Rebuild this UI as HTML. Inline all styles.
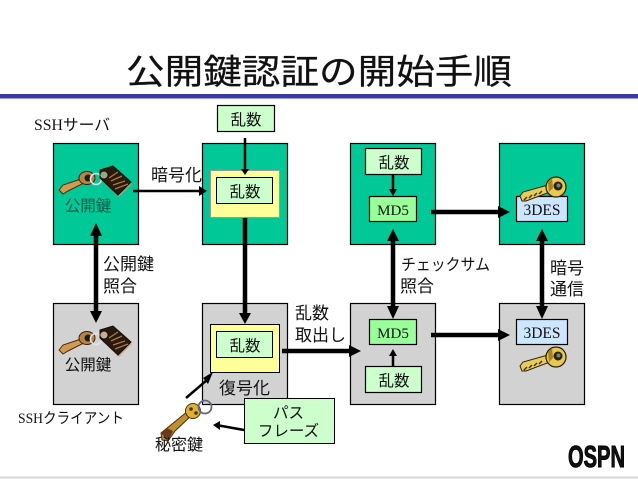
<!DOCTYPE html>
<html><head><meta charset="utf-8"><style>
html,body{margin:0;padding:0;background:#fff;width:638px;height:479px;overflow:hidden}
svg{display:block}
text{font-family:"Liberation Sans","Noto Sans CJK JP",sans-serif;fill:#111}
.s{font-family:"Liberation Serif","Noto Sans CJK JP",serif}
.m{text-anchor:middle}
</style></head><body>
<svg width="638" height="479" viewBox="0 0 638 479" xmlns="http://www.w3.org/2000/svg">
<defs>
<g id="keyring">
<path d="M0 18 L4 13 L22 7 L25 11 L9 19 L4 22Z" fill="#d09a50" stroke="#4a2a10" stroke-width="1"/>
<ellipse cx="28" cy="6" rx="8" ry="6.500" fill="#b8843e" stroke="#3a2010"/>
<circle cx="29" cy="6" r="3.500" fill="#1c1c1c"/>
<circle cx="37" cy="7" r="5.500" fill="none" stroke="#e4e4e4" stroke-width="1.600"/>
<path d="M41 -2 L54 -6 L72 10 L59 23 L41 6Z" fill="#caa070" opacity=".75" transform="translate(1 2)"/>
<path fill-rule="evenodd" d="M41 -2 L54 -6 L72 10 L59 23 L41 6Z M45 -1 a4 4 0 1 0 .01 0Z" fill="#2a1a0e" stroke="#111"/>
<path d="M54 13 L66 9 M52 9 L63 4 M56 17 L69 12 M50 6 L59 0" stroke="#a87848" stroke-width="1.300"/>
</g>
<g id="gold">
<path d="M0 13 L3 9 L28 2 L30 9 L6 18 L2 18Z" fill="#e8cc58" stroke="#2a2208"/>
<path d="M4 17 L7 14 M9 15 L12 12 M14 13 L17 10 M19 11 L22 8" stroke="#3a2c08" stroke-width="1.400"/>
<circle cx="36" cy="4" r="10" fill="#e8c850" stroke="#221a04" stroke-width="1.200"/>
<path d="M28 -1 A10 10 0 0 1 32 -5 L33 5 L29 9Z" fill="#a8801c"/>
<circle cx="38" cy="3" r="4.500" fill="#2a2208"/>
<circle cx="38.500" cy="2.500" r="2" fill="#6a8a70"/>
</g>
</defs>
<rect x="0" y="94" width="638" height="4.500" fill="#3a3aa8"/>
<rect x="0" y="476.500" width="638" height="2" fill="#d8d8d8"/>
<text x="319" y="84" class="m" font-size="34.500" textLength="386" lengthAdjust="spacingAndGlyphs" stroke="#111" stroke-width=".25">公開鍵認証の開始手順</text>

<g stroke="#000" stroke-width="1.200">
<rect x="53.500" y="143.500" width="85" height="101" fill="#00c896"/>
<rect x="202.500" y="143.500" width="85" height="101" fill="#00c896"/>
<rect x="350.500" y="143.500" width="85" height="101" fill="#00c896"/>
<rect x="499.500" y="143.500" width="85" height="101" fill="#00c896"/>
<rect x="53.500" y="303.500" width="85" height="101" fill="#d2d2d2"/>
<rect x="202.500" y="303.500" width="85" height="101" fill="#d2d2d2"/>
<rect x="350.500" y="303.500" width="85" height="101" fill="#d2d2d2"/>
<rect x="499.500" y="303.500" width="85" height="101" fill="#d2d2d2"/>
<rect x="217.500" y="105.500" width="57" height="26" fill="#ccffcc"/>
<rect x="365.500" y="148.500" width="56" height="26" fill="#ccffcc"/>
<rect x="365.500" y="366.500" width="56" height="26" fill="#ccffcc"/>
<rect x="369.500" y="196.500" width="47" height="25" fill="#99ff99"/>
<rect x="369.500" y="319.500" width="47" height="25" fill="#99ff99"/>
<rect x="516.500" y="196.500" width="51" height="25" fill="#cce6ff"/>
<rect x="516.500" y="319.500" width="51" height="25" fill="#cce6ff"/>
</g>
<g stroke-width="1">
<rect x="210.500" y="170.500" width="69" height="47" fill="#ffff99" stroke="#999"/>
<rect x="210.500" y="324.500" width="69" height="48" fill="#ffff99" stroke="#000"/>
<rect x="216.500" y="177.500" width="56" height="26" fill="#ccffcc" stroke="#000"/>
<rect x="216.500" y="331.500" width="56" height="26" fill="#ccffcc" stroke="#000"/>
</g>

<!-- keys -->
<use href="#keyring" x="59" y="172"/>
<use href="#keyring" x="59" y="332"/>
<use href="#gold" x="520" y="183"/>
<use href="#gold" x="520" y="353"/>
<g>
<path d="M161 433 L172 424 L188 411 L192 415 L175 431 L168 441 L162 440Z" fill="#c09030" stroke="#4a2a10"/>
<path d="M161 433 L168 441 L173 431 L167 428Z" fill="#6a3a1a"/>
<circle cx="193" cy="411" r="7.500" fill="#e0b030" stroke="#443010"/>
<circle cx="191" cy="409" r="1.800" fill="#443010"/><circle cx="196" cy="413" r="1.800" fill="#443010"/>
<circle cx="205" cy="407" r="6.500" fill="none" stroke="#667" stroke-width="1.800"/>
</g>

<!-- arrows -->
<g fill="#000" stroke="#000">
<path d="M245 138V170" stroke-width="2.500" fill="none"/><path d="M241 169H249L245 175Z" stroke="none"/>
<path d="M133 191H203" stroke-width="2.500" fill="none"/><path d="M199 186V196L207 191Z" stroke="none"/>
<path d="M96 236V311" stroke-width="4.500" fill="none"/>
<path d="M90 236L96 223L102 236ZM90 311L96 323L102 311Z" stroke="none"/>
<path d="M245 218V314" stroke-width="4.500" fill="none"/><path d="M239 313H251L245 324Z" stroke="none"/>
<path d="M393 240V307" stroke-width="4.500" fill="none"/>
<path d="M387 241L393 229L399 241ZM387 306L393 319L399 306Z" stroke="none"/>
<path d="M542 240V307" stroke-width="4.500" fill="none"/>
<path d="M536 241L542 229L548 241ZM536 306L542 319L548 306Z" stroke="none"/>
<path d="M431 212H500" stroke-width="4.500" fill="none"/><path d="M498 206V218L510 212Z" stroke="none"/>
<path d="M431 335H500" stroke-width="4.500" fill="none"/><path d="M498 329V341L510 335Z" stroke="none"/>
<path d="M282 351H351" stroke-width="4.500" fill="none"/><path d="M349 345V357L361 351Z" stroke="none"/>
<path d="M393 174V190" stroke-width="2.500" fill="none"/><path d="M389 189H397L393 196Z" stroke="none"/>
<path d="M393 366V356" stroke-width="2.500" fill="none"/><path d="M389 356H397L393 349Z" stroke="none"/>
<path d="M186 398L207 380" stroke-width="2.500" fill="none"/><path d="M203 378L208 384L213 372Z" stroke="none"/>
</g>
<rect x="244.500" y="398.500" width="90" height="45" fill="#ccffcc" stroke="#000"/>
<path d="M244 430L219 425.500" stroke="#000" stroke-width="2.500"/><path d="M220 421L213 425L220 430Z" fill="#000"/>

<!-- text -->
<g font-size="15.500">
<text x="246" y="125" class="m">乱数</text>
<text x="245" y="197" class="m">乱数</text>
<text x="245" y="351" class="m">乱数</text>
<text x="394" y="168" class="m">乱数</text>
<text x="394" y="386" class="m">乱数</text>
<text x="288.500" y="418" class="m">パス</text>
<text x="288.500" y="436" class="m">フレーズ</text>
<text x="88" y="211" class="m" style="fill:#0a5a48">公開鍵</text>
<text x="88" y="370" class="m">公開鍵</text>
</g>
<g font-size="17">
<text x="151" y="181">暗号化</text>
<text x="103" y="270">公開鍵</text>
<text x="103" y="292">照合</text>
<text x="295" y="319">乱数</text>
<text x="295" y="341">取出し</text>
<text x="219" y="394">復号化</text>
<text x="401" y="270" font-size="16" textLength="89" lengthAdjust="spacingAndGlyphs">チェックサム</text>
<text x="400" y="292">照合</text>
<text x="550" y="274">暗号</text>
<text x="550" y="295">通信</text>
</g>
<text x="155" y="450" font-size="16">秘密鍵</text>
<g font-size="15">
<text x="393" y="215" class="s m">MD5</text>
<text x="393" y="338" class="s m">MD5</text>
<text x="542" y="215" class="s m" font-size="15.500">3DES</text>
<text x="542" y="338" class="s m" font-size="15.500">3DES</text>
</g>
<text x="34" y="130" class="s" font-size="15.500" textLength="76" lengthAdjust="spacingAndGlyphs">SSHサーバ</text>
<text x="18" y="423" class="s" font-size="15" textLength="106" lengthAdjust="spacingAndGlyphs">SSHクライアント</text>
<text x="568" y="467" font-size="31" font-weight="bold" textLength="57" lengthAdjust="spacingAndGlyphs" stroke="#000" stroke-width="1">OSPN</text>
</svg>
</body></html>
